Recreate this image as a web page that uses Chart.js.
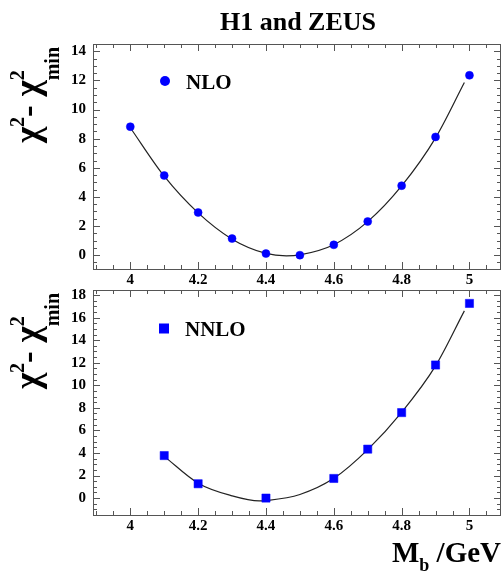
<!DOCTYPE html>
<html>
<head>
<meta charset="utf-8">
<script src="https://cdn.jsdelivr.net/npm/chart.js@4/dist/chart.umd.min.js"></script>
<style>
  html, body { margin: 0; padding: 0; background: #fff; }
  #wrap { position: relative; width: 502px; height: 572px; overflow: hidden; }
  canvas { position: absolute; left: 0; top: 0; }
</style>
</head>
<body>
<div id="wrap">
  <canvas id="chartNLO" width="502" height="572"></canvas>
  <canvas id="chartNNLO" width="502" height="572"></canvas>
</div>
<script>
// datos
const massNLO = [4.0, 4.1, 4.2, 4.3, 4.4, 4.5, 4.6, 4.7, 4.8, 4.9, 5.0];
const chi2NLO = [8.82, 5.47, 2.93, 1.14, 0.11, 0.0, 0.71, 2.31, 4.77, 8.12, 12.35];
const fitMassNLO = [4.0, 4.1, 4.2, 4.3, 4.4, 4.46, 4.5, 4.6, 4.7, 4.8, 4.9, 4.985];
const fitChi2NLO = [8.75, 5.42, 2.9, 1.1, 0.12, -0.05, 0.02, 0.72, 2.3, 4.75, 8.05, 11.85];

const massNNLO = [4.1, 4.2, 4.4, 4.6, 4.7, 4.8, 4.9, 5.0];
const chi2NNLO = [3.77, 1.27, 0.0, 1.74, 4.34, 7.58, 11.8, 17.26];
const fitMassNNLO = [4.1, 4.2, 4.3, 4.38, 4.4, 4.5, 4.6, 4.7, 4.8, 4.9, 4.985];
const fitChi2NNLO = [3.7, 1.32, 0.2, -0.25, -0.22, 0.32, 1.75, 4.3, 7.6, 11.72, 16.6];

const massTicks = [4, 4.2, 4.4, 4.6, 4.8, 5];
const chi2TicksNLO = [0, 2, 4, 6, 8, 10, 12, 14];
const chi2TicksNNLO = [0, 2, 4, 6, 8, 10, 12, 14, 16, 18];

const serif = '"Liberation Serif", "Times New Roman", serif';
const azul = '#0000ff';
const ejeColor = '#555';

function toXY(xs, ys) {
    return xs.map((x, i) => ({x: x, y: ys[i]}));
}

// marcas hacia adentro en los cuatro lados
function dibujarMarcas(chart, yMinor, yMajor) {
    const ctx = chart.ctx;
    const a = chart.chartArea;
    const sx = chart.scales.x;
    const sy = chart.scales.y;
    ctx.save();
    ctx.strokeStyle = ejeColor;
    ctx.lineWidth = 1;
    ctx.strokeRect(a.left + 0.5, a.top + 0.5, a.right - a.left - 1, a.bottom - a.top);
    ctx.beginPath();
    const xStep = 0.05;
    for (let i = Math.ceil(sx.min / xStep); i * xStep <= sx.max; i++) {
        const v = i * xStep;
        const major = Math.abs(v / 0.2 - Math.round(v / 0.2)) < 1e-6;
        const len = major ? 7 : 4;
        const px = Math.round(sx.getPixelForValue(v)) + 0.5;
        ctx.moveTo(px, a.bottom);
        ctx.lineTo(px, a.bottom - len);
        ctx.moveTo(px, a.top);
        ctx.lineTo(px, a.top + len);
    }
    for (let i = Math.ceil(sy.min / yMinor); i * yMinor <= sy.max; i++) {
        const v = i * yMinor;
        const major = Math.abs(v / yMajor - Math.round(v / yMajor)) < 1e-6;
        const len = major ? 7 : 4;
        const py = Math.round(sy.getPixelForValue(v)) + 0.5;
        ctx.moveTo(a.left, py);
        ctx.lineTo(a.left + len, py);
        ctx.moveTo(a.right, py);
        ctx.lineTo(a.right - len, py);
    }
    ctx.stroke();
    ctx.restore();
}

// titulo del eje y: chi^2 - chi^2_min, girado
function dibujarTituloY(ctx, xBase, yFin) {
    const big = 'bold 35px ' + serif;
    const small = 'bold 20px ' + serif;
    ctx.save();
    ctx.fillStyle = '#000';
    ctx.textBaseline = 'alphabetic';
    ctx.font = big;
    const wChi = ctx.measureText('\u03c7').width;
    const wDash = ctx.measureText('- ').width;
    ctx.font = small;
    const w2 = ctx.measureText('2').width;
    const wMin = ctx.measureText('min').width;
    const total = wChi + w2 + wDash + wChi + Math.max(w2, wMin);
    ctx.translate(xBase, yFin);
    ctx.rotate(-Math.PI / 2);
    let p = -total;
    ctx.font = big;
    ctx.fillText('\u03c7', p, 0);
    p += wChi;
    ctx.font = small;
    ctx.fillText('2', p, -15);
    p += w2;
    ctx.font = big;
    ctx.fillText('- ', p, 0);
    p += wDash;
    ctx.fillText('\u03c7', p, 0);
    p += wChi;
    ctx.font = small;
    ctx.fillText('2', p, -15);
    ctx.fillText('min', p, 20);
    ctx.restore();
}

function dibujarLeyenda(ctx, estilo, cx, cy, texto) {
    ctx.save();
    ctx.fillStyle = azul;
    if (estilo === 'circle') {
        ctx.beginPath();
        ctx.arc(cx, cy, 5, 0, Math.PI * 2);
        ctx.fill();
    } else {
        ctx.fillRect(cx - 5, cy - 5, 10, 10);
    }
    ctx.fillStyle = '#000';
    ctx.font = 'bold 21px ' + serif;
    ctx.textBaseline = 'alphabetic';
    ctx.fillText(texto, cx + 21, cy + 7.5);
    ctx.restore();
}

function sinPadding(s) {
    s.paddingLeft = 0;
    s.paddingRight = 0;
    s.paddingTop = 0;
    s.paddingBottom = 0;
}

function opcionesEjes(yMin, yMax, yTicks) {
    return {
        x: {
            type: 'linear',
            min: 3.89,
            max: 5.093,
            grid: {display: false, drawTicks: false},
            border: {display: false},
            afterBuildTicks: s => { s.ticks = massTicks.map(v => ({value: v})); },
            afterFit: s => { s.height = 21; sinPadding(s); },
            ticks: {
                padding: 2,
                color: '#000',
                font: {family: serif, size: 15, weight: 'bold'},
                callback: v => String(v)
            }
        },
        y: {
            type: 'linear',
            min: yMin,
            max: yMax,
            grid: {display: false, drawTicks: false},
            border: {display: false},
            afterBuildTicks: s => { s.ticks = yTicks.map(v => ({value: v})); },
            afterFit: s => { s.width = 93; sinPadding(s); },
            ticks: {
                padding: 7,
                color: '#000',
                font: {family: serif, size: 15, weight: 'bold'},
                callback: v => String(v)
            }
        }
    };
}

function datasets(fx, fy, px, py, estilo, radio) {
    return [
        {
            data: toXY(fx, fy),
            showLine: true,
            borderColor: '#222',
            borderWidth: 1.2,
            pointRadius: 0,
            cubicInterpolationMode: 'monotone',
            order: 2
        },
        {
            data: toXY(px, py),
            showLine: false,
            pointStyle: estilo,
            pointRadius: radio,
            pointBackgroundColor: azul,
            pointBorderColor: azul,
            pointBorderWidth: 0.5,
            order: 1
        }
    ];
}

Chart.defaults.animation = false;

new Chart(document.getElementById('chartNLO'), {
    type: 'scatter',
    data: {datasets: datasets(fitMassNLO, fitChi2NLO, massNLO, chi2NLO, 'circle', 4)},
    options: {
        responsive: false,
        layout: {autoPadding: false, padding: {top: 44, right: 1, bottom: 282, left: 0}},
        plugins: {legend: {display: false}, tooltip: {enabled: false}},
        scales: opcionesEjes(-0.95, 14.5, chi2TicksNLO)
    },
    plugins: [{
        id: 'decorNLO',
        afterDraw(chart) {
            const ctx = chart.ctx;
            dibujarMarcas(chart, 0.5, 2);
            ctx.save();
            ctx.fillStyle = '#000';
            ctx.font = 'bold 26px ' + serif;
            ctx.textAlign = 'center';
            ctx.fillText('H1 and ZEUS', 298, 29.5);
            ctx.restore();
            dibujarTituloY(ctx, 39, chart.chartArea.top + 3);
            dibujarLeyenda(ctx, 'circle', 165, 81, 'NLO');
        }
    }]
});

new Chart(document.getElementById('chartNNLO'), {
    type: 'scatter',
    data: {datasets: datasets(fitMassNNLO, fitChi2NNLO, massNNLO, chi2NNLO, 'rect', 5.8)},
    options: {
        responsive: false,
        layout: {autoPadding: false, padding: {top: 290, right: 1, bottom: 36, left: 0}},
        plugins: {legend: {display: false}, tooltip: {enabled: false}},
        scales: opcionesEjes(-1.5, 18.45, chi2TicksNNLO)
    },
    plugins: [{
        id: 'decorNNLO',
        afterDraw(chart) {
            const ctx = chart.ctx;
            dibujarMarcas(chart, 0.5, 2);
            dibujarTituloY(ctx, 39, chart.chartArea.top + 3);
            dibujarLeyenda(ctx, 'rect', 164, 328.5, 'NNLO');
            // titulo eje x: M_b /GeV
            ctx.save();
            ctx.fillStyle = '#000';
            ctx.textBaseline = 'alphabetic';
            const big = 'bold 29px ' + serif;
            const small = 'bold 18px ' + serif;
            ctx.font = big;
            const wM = ctx.measureText('M').width;
            const wG = ctx.measureText(' /GeV').width;
            ctx.font = small;
            const wb = ctx.measureText('b').width;
            let p = 501 - (wM + wb + wG);
            ctx.font = big;
            ctx.fillText('M', p, 562);
            p += wM;
            ctx.font = small;
            ctx.fillText('b', p, 571);
            p += wb;
            ctx.font = big;
            ctx.fillText(' /GeV', p, 562);
            ctx.restore();
        }
    }]
});
</script>
</body>
</html>
